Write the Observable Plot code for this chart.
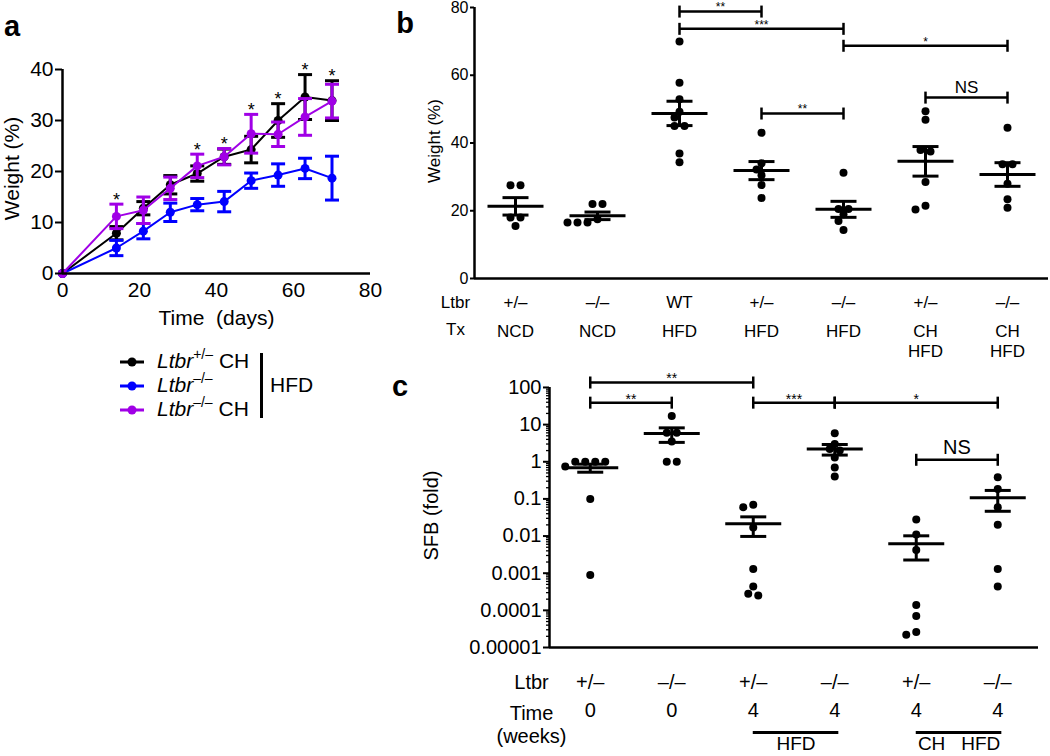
<!DOCTYPE html>
<html><head><meta charset="utf-8">
<script src="https://cdn.jsdelivr.net/npm/d3@7"></script>
<script src="https://cdn.jsdelivr.net/npm/@observablehq/plot@0.6"></script>
<style>
body{margin:0;background:#fff;}
#fig{position:relative;width:1050px;height:756px;font-family:"Liberation Sans",Arial,sans-serif;color:#000;overflow:hidden;background:#fff;}
#fig svg{position:absolute;overflow:visible;background:transparent;max-width:none;}
.letter{position:absolute;font-weight:bold;font-size:29px;line-height:1;transform:translate(-50%,-55%);}
.leg{position:absolute;height:24px;line-height:24px;font-size:21px;white-space:nowrap;}
.leg svg{position:static !important;vertical-align:middle;}
.leg sup{font-size:14px;vertical-align:9px;line-height:0;}
</style></head><body><div id="fig"></div>
<script>
// ---------- Panel a data ----------
const days = [0,14,21,28,35,42,49,56,63,70];
const seriesKeys = ["hetCH","ko","koCH"];
const seriesColors = ["#000000","#0000ff","#a000e6"];
const legendGenotype = ["+/\u2013","\u2013/\u2013","\u2013/\u2013"];
const legendSuffix = [" CH",""," CH"];
const hetCHMean = [0,7.9,12.8,17.4,19.6,22.9,24.3,30.0,34.6,33.9];
const hetCHSem  = [0,1.3,1.3,1.8,1.5,1.5,2.6,3.3,4.4,3.9];
const koMean    = [0,5.0,8.3,12.0,13.5,14.1,18.2,19.3,20.6,18.7];
const koSem     = [0,1.5,1.5,1.8,1.2,2.0,1.5,2.2,2.0,4.3];
const koCHMean  = [0,11.2,12.4,16.7,21.1,22.9,27.4,27.3,30.7,33.8];
const koCHSem   = [0,2.4,2.6,2.2,2.3,1.6,3.8,2.4,3.6,3.3];
const starDays = [14,35,42,49,56,63,70];
const aXTicks = [0,20,40,60,80];
const aYTicks = [0,10,20,30,40];

// ---------- Panel b data ----------
const bLtbr = ["+/\u2013","\u2013/\u2013","WT","+/\u2013","\u2013/\u2013","+/\u2013","\u2013/\u2013"];
const bTx = ["NCD","NCD","HFD","HFD","HFD","CH\nHFD","CH\nHFD"];
const bValues = [
  [27.5,27.5,18,18,15.5],
  [22,22,17.5,16.5,16.5,16.5],
  [70,57.8,52.9,49.2,47.5,45,45,36.9,34.3],
  [43,34,32.2,30.5,27.6,23.8],
  [31.2,20.5,20.5,19,17,14.3],
  [49.4,46.9,37.9,37.5,28.5,21.5,20.4],
  [44.5,33.7,33.7,28,23.4,20.9]
];
const bYTicks = [0,20,40,60,80];
const bBrackets = [
  {from:2,to:3,y:78.8,label:"**"},
  {from:2,to:4,y:73.7,label:"***"},
  {from:4,to:6,y:68.7,label:"*"},
  {from:5,to:6,y:53.4,label:"NS"},
  {from:3,to:4,y:48.7,label:"**"}
];

// ---------- Panel c data ----------
const cLtbr = ["+/\u2013","\u2013/\u2013","+/\u2013","\u2013/\u2013","+/\u2013","\u2013/\u2013"];
const cTime = ["0","0","4","4","4","4"];
const cValues = [
  [1,1,1,1,0.75,0.1,0.0009],
  [17,6,6,3.5,1,1],
  [0.07,0.06,0.017,0.0013,0.00044,0.00025,0.00028],
  [5.9,3,2.2,2,1.3,0.7,0.4],
  [0.028,0.011,0.0042,0.00014,0.00007,0.000026,0.000022],
  [0.38,0.185,0.06,0.02,0.0013,0.00044]
];
const cYTicks = [1e-5,1e-4,1e-3,1e-2,1e-1,1,10,100];
const cYTickLabels = ["0.00001","0.0001","0.001","0.01","0.1","1","10","100"];
const cBrackets = [
  {from:0,to:2,y:136,label:"**"},
  {from:0,to:1,y:39,label:"**"},
  {from:2,to:3,y:39,label:"***"},
  {from:3,to:5,y:39,label:"*"},
  {from:4,to:5,y:1.13,label:"NS"}
];
const cSpans = [{from:2,to:3,label:"HFD"},{from:4,to:5,label:"CH\u00a0\u00a0 HFD"}];

// ---------- helpers ----------
const hbar = {draw(ctx,size){const r=Math.sqrt(size/Math.PI);ctx.moveTo(-r,0);ctx.lineTo(r,0);}};
const vbar = {draw(ctx,size){const r=Math.sqrt(size/Math.PI);ctx.moveTo(0,-r);ctx.lineTo(0,r);}};
const FONT = '"Liberation Sans", Arial, sans-serif';
const fig = document.getElementById("fig");
function place(el,left,top){el.style.position="absolute";el.style.left=left+"px";el.style.top=top+"px";el.style.overflow="visible";el.style.background="transparent";fig.appendChild(el);}

function dodge(groups, yPix, pxPerUnit){
  const out=[];
  groups.forEach((vals,gi)=>{
    const placed=[];
    const sorted=vals.slice().sort((a,b)=>b-a);
    const rows=[];
    for(const v of sorted){const last=rows[rows.length-1]; if(last && Math.abs(yPix(last[0])-yPix(v))<2) last.push(v); else rows.push([v]);}
    const s=10, D=7;
    const cands=[0]; for(let k=1;k<=12;k++){cands.push(-5*k,5*k);}
    for(const row of rows){
      const n=row.length; let chosen=0;
      for(const c of cands){
        const offs=row.map((v,i)=>c+(i-(n-1)/2)*s);
        const ok=row.every((v,i)=>placed.every(p=>Math.hypot(p.dx-offs[i],p.py-yPix(v))>=D));
        if(ok){chosen=c;break;}
      }
      row.forEach((v,i)=>{const dx=chosen+(i-(n-1)/2)*s; placed.push({dx,py:yPix(v)}); out.push({group:gi,value:v,x:gi+dx/pxPerUnit});});
    }
  });
  return out;
}
function stats(groups){return groups.map((vals,i)=>{const n=vals.length,m=d3.mean(vals),se=d3.deviation(vals)/Math.sqrt(n);return {group:i,mean:m,lo:m-se,hi:m+se};});}
function groupMarks(points,st){
  return [
    Plot.dot(points,{x:"x",y:"value",r:4,fill:"black"}),
    Plot.ruleX(st,{x:"group",y1:"lo",y2:"hi",strokeWidth:3}),
    Plot.dot(st,{x:"group",y:"mean",symbol:hbar,r:28,stroke:"black",fill:"none",strokeWidth:3}),
    Plot.dot(st,{x:"group",y:"hi",symbol:hbar,r:13,stroke:"black",fill:"none",strokeWidth:3}),
    Plot.dot(st,{x:"group",y:"lo",symbol:hbar,r:13,stroke:"black",fill:"none",strokeWidth:3})
  ];
}
function bracketMarks(br,starSize,starDy,nsSize,nsDy){
  const stars=br.filter(d=>d.label!=="NS"), ns=br.filter(d=>d.label==="NS");
  return [
    Plot.ruleY(br,{y:"y",x1:"from",x2:"to",strokeWidth:2.5}),
    Plot.dot(br,{x:"from",y:"y",symbol:vbar,r:6,stroke:"black",fill:"none",strokeWidth:2.5}),
    Plot.dot(br,{x:"to",y:"y",symbol:vbar,r:6,stroke:"black",fill:"none",strokeWidth:2.5}),
    Plot.text(stars,{x:d=>(d.from+d.to)/2,y:"y",text:"label",fontSize:starSize,dy:starDy}),
    Plot.text(ns,{x:d=>(d.from+d.to)/2,y:"y",text:"label",fontSize:nsSize,dy:nsDy})
  ];
}
const M = {textAnchor:"middle",lineAnchor:"middle"};

// ---------- Panel a ----------
const means=[hetCHMean,koMean,koCHMean], sems=[hetCHSem,koSem,koCHSem];
const aMarks=[];
seriesKeys.forEach((k,si)=>{
  const rows=days.map((d,i)=>({day:d,mean:means[si][i],lo:means[si][i]-sems[si][i],hi:means[si][i]+sems[si][i]}));
  const col=seriesColors[si];
  const eb=rows.filter(r=>r.hi>r.lo);
  aMarks.push(
    Plot.line(rows,{x:"day",y:"mean",stroke:col,strokeWidth:2}),
    Plot.ruleX(eb,{x:"day",y1:"lo",y2:"hi",stroke:col,strokeWidth:3}),
    Plot.dot(eb,{x:"day",y:"hi",symbol:hbar,r:7,stroke:col,fill:"none",strokeWidth:3}),
    Plot.dot(eb,{x:"day",y:"lo",symbol:hbar,r:7,stroke:col,fill:"none",strokeWidth:3}),
    Plot.dot(rows,{x:"day",y:"mean",r:4.5,fill:col})
  );
});
const starRows=starDays.map(d=>{const i=days.indexOf(d);return {day:d,top:d3.max(means,(m,k)=>m[i]+sems[k][i])};});
const plotA=Plot.plot({
  width:380,height:340,marginLeft:62,marginRight:10,marginTop:69,marginBottom:67,
  style:{fontFamily:FONT,fontSize:"21px",color:"black",background:"transparent",overflow:"visible"},
  x:{domain:[0,80]},y:{domain:[0,40]},
  marks:[
    ...aMarks,
    Plot.ruleY([0],{strokeWidth:2.5}),
    Plot.ruleX([0],{strokeWidth:2.5}),
    Plot.axisX({ticks:aXTicks,tickSize:0,tickPadding:9,label:null,fontSize:21}),
    Plot.axisY({ticks:aYTicks,tickSize:7,tickPadding:2,label:null,fontSize:21,strokeWidth:2}),
    Plot.text(starRows,{x:"day",y:"top",text:()=>"*",fontSize:18,dy:-4}),
    Plot.text(["Time\u00a0 (days)"],{frameAnchor:"bottom",dy:45,fontSize:21,...M}),
    Plot.text(["Weight (%)"],{frameAnchor:"left",dx:-50,dy:-3,rotate:-90,fontSize:21,...M})
  ]
});
place(plotA,0,0);

// legend
const legTops=[361,385,409];
seriesKeys.forEach((k,si)=>{
  const d=document.createElement("div"); d.className="leg";
  d.style.left="120px"; d.style.top=(legTops[si]-12)+"px";
  d.innerHTML=`<svg width="24" height="24" style="margin-right:13px"><line x1="0" x2="24" y1="12" y2="12" stroke="${seriesColors[si]}" stroke-width="3"/><circle cx="12" cy="12" r="4.5" fill="${seriesColors[si]}"/></svg><i>Ltbr</i><sup>${legendGenotype[si]}</sup>${legendSuffix[si]}`;
  fig.appendChild(d);
});
const bar=document.createElement("div");
Object.assign(bar.style,{position:"absolute",left:"260px",top:"353px",width:"3px",height:"65px",background:"black"});
fig.appendChild(bar);
const hfd=document.createElement("div"); hfd.className="leg"; hfd.style.left="270px"; hfd.style.top="373px"; hfd.textContent="HFD"; fig.appendChild(hfd);

// ---------- Panel b ----------
const bPts=dodge(bValues,v=>v*271/80,82);
const bSt=stats(bValues);
const plotB=Plot.plot({
  width:660,height:360,marginLeft:84,marginRight:2,marginTop:7,marginBottom:82,
  style:{fontFamily:FONT,fontSize:"17px",color:"black",background:"transparent",overflow:"visible"},
  x:{domain:[-0.5,6.5],axis:null},y:{domain:[0,80]},
  marks:[
    Plot.ruleY([0],{strokeWidth:2.5}),
    Plot.ruleX([-0.5],{strokeWidth:2.5}),
    Plot.axisY({ticks:bYTicks,tickSize:4,tickPadding:2,label:null,fontSize:16,strokeWidth:2}),
    ...groupMarks(bPts,bSt),
    ...bracketMarks(bBrackets,12,-4,17,-10),
    Plot.text(["Weight (%)"],{frameAnchor:"left",dx:-40,dy:-2,rotate:-90,fontSize:17,...M}),
    Plot.text(bLtbr,{x:(d,i)=>i,frameAnchor:"bottom",dy:24,fontSize:17,...M}),
    Plot.text(bTx,{x:(d,i)=>i,frameAnchor:"bottom",dy:44,textAnchor:"middle",lineAnchor:"top",lineHeight:1.18,fontSize:17}),
    Plot.text(["Ltbr"],{frameAnchor:"bottom-left",dx:-19,dy:24,fontSize:17,...M}),
    Plot.text(["Tx"],{frameAnchor:"bottom-left",dx:-19,dy:44,textAnchor:"middle",lineAnchor:"top",fontSize:17})
  ]
});
place(plotB,390,0);

// ---------- Panel c ----------
const cPts=dodge(cValues,v=>Math.log10(v)*37.15,81.5);
const cSt=stats(cValues);
const minorC=[]; for(let e=-5;e<2;e++){for(let k=2;k<=9;k++){minorC.push(k*Math.pow(10,e));}}
const plotC=Plot.plot({
  width:660,height:395,marginLeft:159,marginRight:12,marginTop:0,marginBottom:109,
  style:{fontFamily:FONT,fontSize:"20px",color:"black",background:"transparent",overflow:"visible"},
  x:{domain:[-0.5,5.5],axis:null},y:{type:"log",domain:[1e-5,500]},
  marks:[
    Plot.ruleY([1e-5],{strokeWidth:2.5}),
    Plot.ruleX([-0.5],{y1:1e-5,y2:100,strokeWidth:2.5}),
    Plot.axisY({ticks:minorC,tickSize:3,tickFormat:()=>"",label:null,strokeWidth:1.3}),
    Plot.axisY({ticks:cYTicks,tickSize:6,tickPadding:2,tickFormat:d=>cYTickLabels[cYTicks.indexOf(d)],label:null,fontSize:20,strokeWidth:2}),
    ...groupMarks(cPts,cSt),
    ...bracketMarks(cBrackets,14,-3.5,20,-12),
    Plot.text(["SFB (fold)"],{frameAnchor:"left",dx:-118,dy:11,rotate:-90,fontSize:20,...M}),
    Plot.text(cLtbr,{x:(d,i)=>i,frameAnchor:"bottom",dy:35,fontSize:20,...M}),
    Plot.text(cTime,{x:(d,i)=>i,frameAnchor:"bottom",dy:63,fontSize:20,...M}),
    Plot.text(["Ltbr"],{frameAnchor:"bottom-left",dx:-18,dy:35,fontSize:20,...M}),
    Plot.text(["Time\n(weeks)"],{frameAnchor:"bottom-left",dx:-18,dy:56,textAnchor:"middle",lineAnchor:"top",lineHeight:1.15,fontSize:20}),
    Plot.ruleY(cSpans,{x1:d=>d.from,x2:d=>d.to+0.05,y:1e-5,dy:85,strokeWidth:3}),
    Plot.text(cSpans,{x:d=>(d.from+d.to)/2+0.025,frameAnchor:"bottom",dy:96,text:"label",fontSize:19,...M})
  ]
});
place(plotC,390,361);

// panel letters
[["a",12,28],["b",405,25],["c",400,388]].forEach(([t,x,y])=>{const d=document.createElement("div");d.className="letter";d.textContent=t;d.style.left=x+"px";d.style.top=y+"px";fig.appendChild(d);});
</script></body></html>
